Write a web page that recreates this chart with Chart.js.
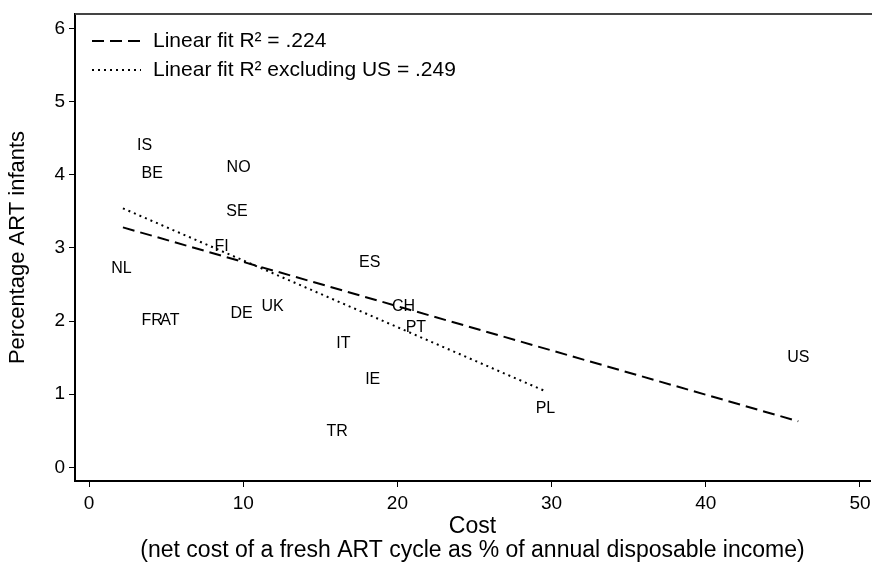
<!DOCTYPE html>
<html>
<head>
<meta charset="utf-8">
<script src="https://cdn.jsdelivr.net/npm/chart.js@4.4.1/dist/chart.umd.min.js"></script>
<style>
  body { margin: 0; background: #fff; }
  #wrap { width: 872px; height: 569px; }
</style>
</head>
<body>
<div id="wrap"><canvas id="chart"></canvas></div>
<script>
// Country labels and their (cost, % ART infants) positions
const countries = ['IS', 'BE', 'NO', 'SE', 'FI', 'NL', 'ES', 'CH', 'PT', 'FR', 'AT', 'DE', 'UK', 'IT', 'IE', 'TR', 'PL', 'US'];
const costs = [3.6, 4.1, 9.7, 9.6, 8.6, 2.1, 18.2, 20.4, 21.2, 4.1, 5.25, 9.9, 11.9, 16.5, 18.4, 16.1, 29.6, 46.0];
const artShare = [4.40, 4.01, 4.10, 3.50, 3.02, 2.71, 2.80, 2.20, 1.91, 2.00, 2.00, 2.10, 2.20, 1.69, 1.20, 0.49, 0.80, 1.50];

// Fitted lines (endpoints)
const fitAllX = [2.2, 46.0];
const fitAllY = [3.28, 0.63];
const fitExclX = [2.2, 29.5];
const fitExclY = [3.54, 1.05];

const legendLabels = ['Linear fit R\u00b2 = .224', 'Linear fit R\u00b2 excluding US = .249'];
const xTicks = [0, 10, 20, 30, 40, 50];
const yTicks = [0, 1, 2, 3, 4, 5, 6];

const FONT = 'Liberation Sans, Arial, sans-serif';

const points = costs.map((c, i) => ({ x: c, y: artShare[i] }));
const fitAll = fitAllX.map((x, i) => ({ x: x, y: fitAllY[i] }));
const fitExcl = fitExclX.map((x, i) => ({ x: x, y: fitExclY[i] }));

// draw country codes centered on each (invisible) point
const labelPlugin = {
    id: 'countryLabels',
    afterDatasetsDraw(chart) {
        const ctx = chart.ctx;
        const meta = chart.getDatasetMeta(0);
        ctx.save();
        ctx.font = '16px ' + FONT;
        ctx.fillStyle = '#000';
        ctx.textAlign = 'center';
        ctx.textBaseline = 'middle';
        meta.data.forEach((el, i) => {
            ctx.fillText(countries[i], el.x, el.y);
        });
        ctx.restore();
    }
};

// legend inside the plot, top-left, plus the top border line
const legendPlugin = {
    id: 'innerLegend',
    afterDraw(chart) {
        const ctx = chart.ctx;
        const area = chart.chartArea;
        ctx.save();
        ctx.strokeStyle = '#444';
        ctx.lineWidth = 2;
        ctx.beginPath();
        ctx.moveTo(area.left, area.top);
        ctx.lineTo(chart.width, area.top);
        ctx.stroke();

        const dashes = [[12, 6], [2, 4]];
        ctx.font = '21px ' + FONT;
        ctx.fillStyle = '#000';
        ctx.textBaseline = 'middle';
        ctx.textAlign = 'left';
        legendLabels.forEach((txt, i) => {
            const y = area.top + 27 + i * 29;
            ctx.setLineDash(dashes[i]);
            ctx.lineWidth = 2;
            ctx.strokeStyle = '#000';
            ctx.beginPath();
            ctx.moveTo(area.left + 17, y);
            ctx.lineTo(area.left + 66, y);
            ctx.stroke();
            ctx.fillText(txt, area.left + 78, y);
        });
        ctx.restore();
    }
};

new Chart(document.getElementById('chart'), {
    type: 'scatter',
    data: {
        datasets: [
            {
                label: 'countries',
                data: points,
                pointRadius: 0,
                pointHoverRadius: 0,
                showLine: false
            },
            {
                label: legendLabels[0],
                data: fitAll,
                showLine: true,
                borderColor: '#000',
                borderWidth: 2,
                borderDash: [12, 6],
                pointRadius: 0
            },
            {
                label: legendLabels[1],
                data: fitExcl,
                showLine: true,
                borderColor: '#000',
                borderWidth: 2,
                borderDash: [2, 4],
                pointRadius: 0
            }
        ]
    },
    options: {
        responsive: true,
        maintainAspectRatio: false,
        animation: false,
        layout: { padding: { left: 0, right: 2, top: 14, bottom: 0 } },
        plugins: {
            legend: { display: false },
            tooltip: { enabled: false }
        },
        scales: {
            x: {
                type: 'linear',
                min: -0.908,
                max: 50.65,
                afterBuildTicks: s => { s.ticks = xTicks.map(v => ({ value: v })); },
                afterFit: s => { s.height = 88; s.paddingLeft = 0; s.paddingRight = 0; },
                grid: { drawOnChartArea: false, tickLength: 6, tickColor: '#000', tickWidth: 1 },
                border: { color: '#000', width: 2 },
                ticks: { color: '#000', font: { family: FONT, size: 19 }, padding: 5, maxRotation: 0 },
                title: {
                    display: true,
                    text: ['Cost', '(net cost of a fresh ART cycle as % of annual disposable income)'],
                    color: '#000',
                    font: { family: FONT, size: 23, lineHeight: 1.05 },
                    padding: { top: 0, bottom: 6 }
                }
            },
            y: {
                type: 'linear',
                min: -0.186,
                max: 6.196,
                afterBuildTicks: s => { s.ticks = yTicks.map(v => ({ value: v })); },
                afterFit: s => { s.width = 75; s.paddingTop = 0; s.paddingBottom = 0; },
                grid: { drawOnChartArea: false, tickLength: 6, tickColor: '#000', tickWidth: 1 },
                border: { color: '#000', width: 2 },
                ticks: { color: '#000', font: { family: FONT, size: 19 }, padding: 4 },
                title: {
                    display: true,
                    text: 'Percentage ART infants',
                    color: '#000',
                    font: { family: FONT, size: 22 },
                    padding: { top: 5, bottom: 0 }
                }
            }
        }
    },
    plugins: [labelPlugin, legendPlugin]
});
</script>
</body>
</html>
